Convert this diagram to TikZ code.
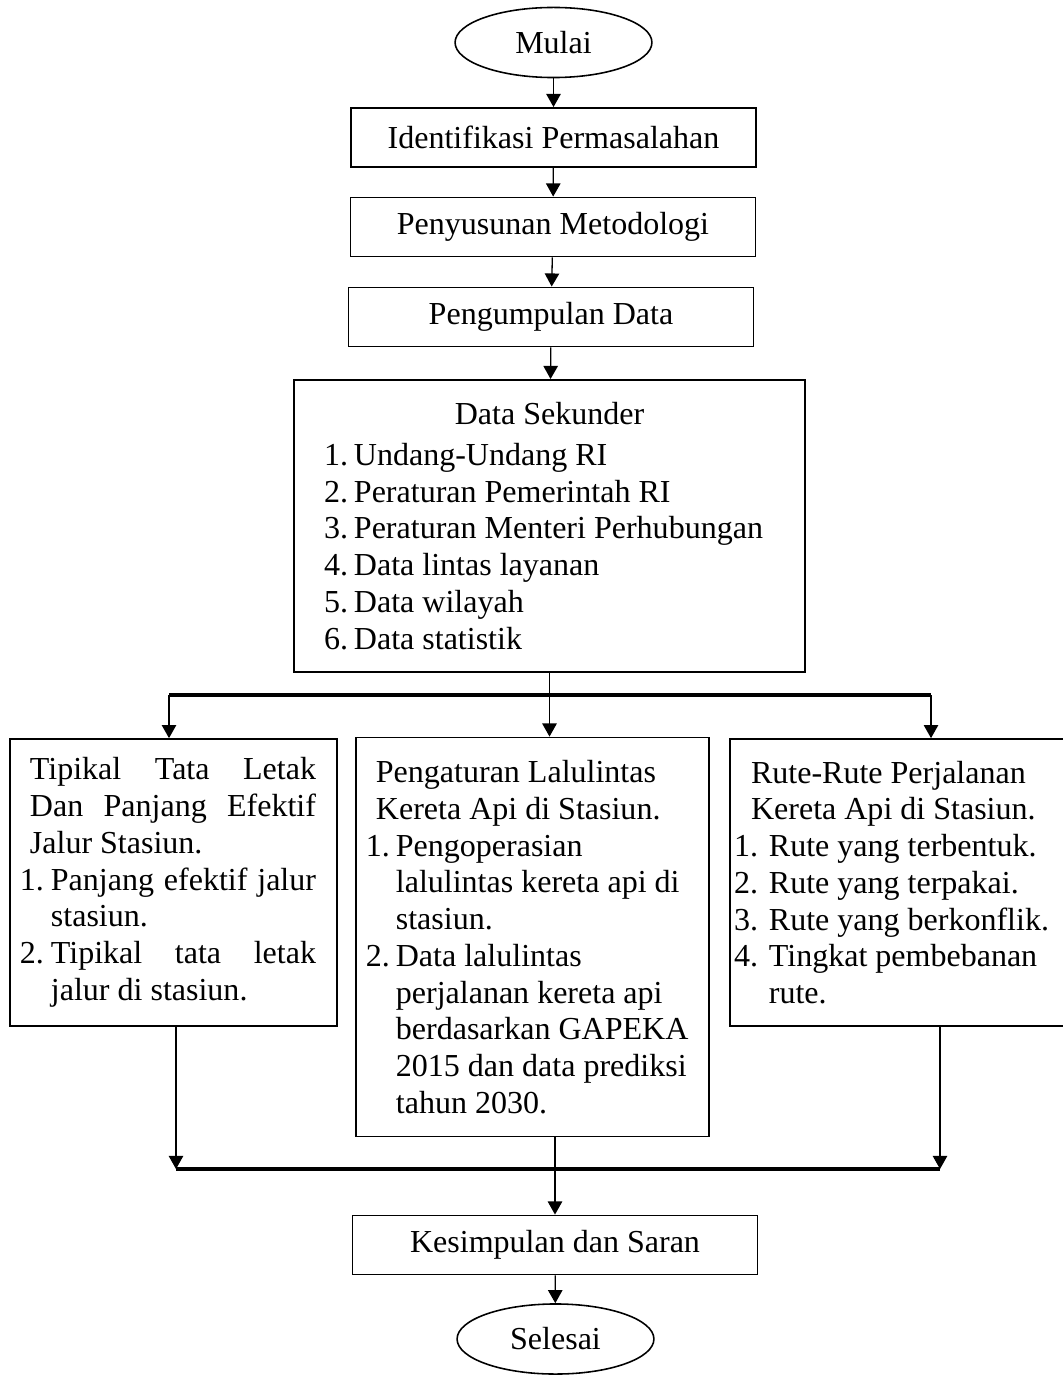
\documentclass[tikz,border=0pt]{standalone}
\usepackage{fontspec}
\setmainfont{Liberation Serif}
\usepackage{tikz}
\usetikzlibrary{arrows.meta,positioning,shapes.geometric,calc}
\tikzset{
  terminal/.style={draw,ellipse,line width=0.6pt,
                   minimum width=75pt,minimum height=26.7pt,inner sep=0pt},
  prosesbox/.style={draw,line width=0.7pt,
                    minimum width=154.3pt,minimum height=22.5pt,inner sep=0pt},
  isibox/.style={draw,line width=0.7pt,align=left,inner ysep=0pt,
                 execute at begin node={\spaceskip=0pt\relax\xspaceskip=0pt\relax}},
  alur/.style={-{Triangle[length=5pt,width=5.5pt]},line width=0.5pt},
  rel/.style={line width=1.4pt}
}
\newcommand{\nomor}[2][11.4pt]{\makebox[#1][l]{#2}}

\begin{document}
\begin{tikzpicture}[x=0.381pt,y=-0.381pt,font=\fontsize{12.2pt}{14pt}\selectfont]
      \useasboundingbox (0,0) rectangle (1062,1378);
      % alur utama
      \node[terminal] (mulai) at (553.5,42.5) {Mulai};
      \node[prosesbox] (identifikasi) at (553.5,137.5) {Identifikasi Permasalahan};
      \node[prosesbox] (metodologi) at (553,227) {Penyusunan Metodologi};
      \node[prosesbox] (pengumpulan) at (551,317) {Pengumpulan Data};
      \node[isibox,minimum width=194.7pt,minimum height=111.3pt,
            text width=171.8pt,inner xsep=11.4pt] (sekunder) at (549.5,526)
        {\makebox[171.8pt]{Data Sekunder}\\[1.6pt]
         \nomor{1.}Undang-Undang RI\\
         \nomor{2.}Peraturan Pemerintah RI\\
         \nomor{3.}Peraturan Menteri Perhubungan\\
         \nomor{4.}Data lintas layanan\\
         \nomor{5.}Data wilayah\\
         \nomor{6.}Data statistik};
      % tiga cabang
      \node[isibox,minimum width=124.6pt,minimum height=109.3pt,
            text width=117pt,inner xsep=3.8pt] (tipikal) at (173.5,882.5)
        {\hspace*{3.8pt}\makebox[109pt][s]{Tipikal Tata Letak}\\
         \hspace*{3.8pt}\makebox[109pt][s]{Dan Panjang Efektif}\\
         \hspace*{3.8pt}Jalur Stasiun.\\
         \nomor[11.8pt]{1.}\makebox[101pt][s]{Panjang efektif jalur}\\
         \hspace*{11.8pt}stasiun.\\
         \nomor[11.8pt]{2.}\makebox[101pt][s]{Tipikal tata letak}\\
         \hspace*{11.8pt}jalur di stasiun.};
      \node[isibox,minimum width=134.5pt,minimum height=152pt,
            text width=126.9pt,inner xsep=3.8pt] (pengaturan) at (532.5,937)
        {\hspace*{3.8pt}Pengaturan Lalulintas\\
         \hspace*{3.8pt}Kereta Api di Stasiun.\\
         \nomor{1.}Pengoperasian\\
         \hspace*{11.4pt}lalulintas kereta api di\\
         \hspace*{11.4pt}stasiun.\\
         \nomor{2.}Data lalulintas\\
         \hspace*{11.4pt}perjalanan kereta api\\
         \hspace*{11.4pt}berdasarkan GAPEKA\\
         \hspace*{11.4pt}2015 dan data prediksi\\
         \hspace*{11.4pt}tahun 2030.};
      \node[isibox,minimum width=129.5pt,minimum height=109.3pt,
            text width=126.5pt,inner xsep=1.5pt] (rute) at (900,882.5)
        {\hspace*{6.5pt}Rute-Rute Perjalanan\\
         \hspace*{6.5pt}Kereta Api di Stasiun.\\
         \nomor[13.3pt]{1.}Rute yang terbentuk.\\
         \nomor[13.3pt]{2.}Rute yang terpakai.\\
         \nomor[13.3pt]{3.}Rute yang berkonflik.\\
         \nomor[13.3pt]{4.}Tingkat pembebanan\\
         \hspace*{13.3pt}rute.};
      \node[prosesbox] (kesimpulan) at (555,1245) {Kesimpulan dan Saran};
      \node[terminal] (selesai) at (555.5,1339) {Selesai};
      % titik pada garis pembagi
      \coordinate (pecahKiri) at (169,695);
      \coordinate (pecahKanan) at (931,695);
      \coordinate (gabungKiri) at (176,1169);
      \coordinate (gabungKanan) at (940,1169);
      % panah
      \draw[alur] (mulai) -- (identifikasi);
      \draw[alur] (identifikasi) -- (metodologi);
      \draw[alur] (metodologi) -- (pengumpulan);
      \draw[alur] (pengumpulan) -- (sekunder);
      \draw[rel] (pecahKiri) -- (pecahKanan);
      \draw[alur] (sekunder.south) -- (sekunder.south |- pengaturan.north);
      \draw[alur] (pecahKiri) -- (pecahKiri |- tipikal.north);
      \draw[alur] (pecahKanan) -- (pecahKanan |- rute.north);
      \draw[alur] (tipikal.south -| gabungKiri) -- (gabungKiri);
      \draw[alur] (rute.south -| gabungKanan) -- (gabungKanan);
      \draw[rel] (gabungKiri) -- (gabungKanan);
      \draw[alur] (pengaturan.south -| kesimpulan) -- (kesimpulan.north);
      \draw[alur] (kesimpulan) -- (selesai);
    \end{tikzpicture}
\end{document}
